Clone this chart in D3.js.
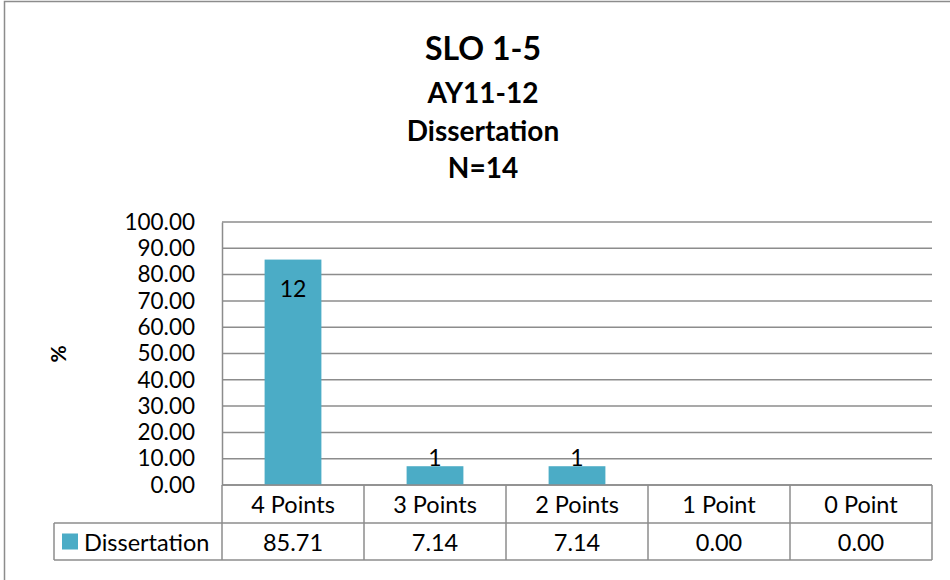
<!DOCTYPE html>
<html>
<head>
<meta charset="utf-8">
<script src="https://cdn.jsdelivr.net/npm/d3@7"></script>
<style>
  body { margin: 0; background: #fff; }
  text { font-family: Lato, "Open Sans", sans-serif; fill: #000; }
</style>
</head>
<body>
<div class="canvas"></div>
<script>
// chart data
const categories = ['4 Points', '3 Points', '2 Points', '1 Point', '0 Point'];
const percents = [85.71, 7.14, 7.14, 0.00, 0.00];
const counts = [12, 1, 1, null, null];
const seriesName = 'Dissertation';
const yTicks = [0, 10, 20, 30, 40, 50, 60, 70, 80, 90, 100];
const titleLines = ['SLO 1-5', 'AY11-12', 'Dissertation', 'N=14'];

const width = 950, height = 580;
const margins = {'top': 222, 'left': 222, 'bottom': 95, 'right': 18};
const graphWidth = width - margins.left - margins.right;
const graphHeight = height - margins.top - margins.bottom;

const svg = d3.select('.canvas')
    .append('svg')
    .attr('width', width)
    .attr('height', height);

// outer chart frame
svg.append('rect')
    .attr('x', 4.5).attr('y', 1.5)
    .attr('width', 960).attr('height', 600)
    .attr('fill', 'none')
    .attr('stroke', '#8c8c8c')
    .attr('stroke-width', 1.5);

// titles
const titleY = [49, 93, 131, 168];
const titleSize = [32, 28, 28, 28];
svg.selectAll('.title')
    .data(titleLines)
    .enter().append('text')
    .attr('class', 'title')
    .attr('x', 483)
    .attr('y', (d, i) => titleY[i])
    .attr('dy', '0.35em')
    .attr('text-anchor', 'middle')
    .attr('font-weight', 'bold')
    .attr('font-size', (d, i) => titleSize[i])
    .text(d => d);

const graph = svg.append('g')
    .attr('transform', 'translate(' + margins.left + ',' + margins.top + ')');

const y = d3.scaleLinear()
    .range([graphHeight, 0])
    .domain([0, 100]);

const x = d3.scaleBand()
    .range([0, graphWidth])
    .domain(categories)
    .paddingInner(0)
    .paddingOuter(0);

// gridlines
graph.selectAll('.grid')
    .data(yTicks)
    .enter().append('line')
    .attr('class', 'grid')
    .attr('x1', 0).attr('x2', graphWidth)
    .attr('y1', d => y(d)).attr('y2', d => y(d))
    .attr('stroke', '#8c8c8c')
    .attr('stroke-width', 1.5);

// y axis
const yAxis = d3.axisLeft(y)
    .tickValues(yTicks)
    .tickFormat(d3.format('.2f'))
    .tickSize(0)
    .tickPadding(27);
const yAxisGroup = graph.append('g').call(yAxis);
yAxisGroup.select('.domain').attr('stroke', '#8c8c8c').attr('stroke-width', 1.5);
yAxisGroup.selectAll('text')
    .attr('font-size', 22.5)
    .attr('font-family', 'Lato, sans-serif')
    .attr('fill', '#000');

// axis title
svg.append('text')
    .attr('transform', 'translate(59,354) rotate(-90)')
    .attr('text-anchor', 'middle')
    .attr('dy', '0.35em')
    .attr('font-weight', 'bold')
    .attr('font-size', 21)
    .text('%');

// bars
const barW = x.bandwidth() * 0.4;
graph.selectAll('.bar')
    .data(percents)
    .enter().append('rect')
    .attr('class', 'bar')
    .attr('x', (d, i) => x(categories[i]) + (x.bandwidth() - barW) / 2)
    .attr('y', d => y(d))
    .attr('width', barW)
    .attr('height', d => graphHeight - y(d))
    .attr('fill', '#4bacc6');

// data labels
graph.selectAll('.lbl')
    .data(counts)
    .enter().filter(d => d !== null).append('text')
    .attr('class', 'lbl')
    .attr('x', (d, i) => x(categories[i]) + x.bandwidth() / 2)
    .attr('y', (d, i) => {
        const top = y(percents[i]);
        return (graphHeight - top) > 40 ? top + 29 : top - 8;
    })
    .attr('dy', '0.35em')
    .attr('text-anchor', 'middle')
    .attr('font-size', 23)
    .text(d => d);

// data table under the axis
const row1 = graphHeight + 38;
const row2 = graphHeight + 75;
const tableLeft = 54 - margins.left;
const table = graph.append('g')
    .attr('stroke', '#8c8c8c')
    .attr('stroke-width', 1.5);
table.append('line').attr('x1', 0).attr('x2', graphWidth).attr('y1', graphHeight).attr('y2', graphHeight);
table.append('line').attr('x1', tableLeft).attr('x2', graphWidth).attr('y1', row1).attr('y2', row1);
table.append('line').attr('x1', tableLeft).attr('x2', graphWidth).attr('y1', row2).attr('y2', row2);
table.append('line').attr('x1', tableLeft).attr('x2', tableLeft).attr('y1', row1).attr('y2', row2);
table.selectAll('.vline')
    .data(categories.concat(['end']))
    .enter().append('line')
    .attr('class', 'vline')
    .attr('x1', (d, i) => i * x.bandwidth())
    .attr('x2', (d, i) => i * x.bandwidth())
    .attr('y1', graphHeight).attr('y2', row2);

graph.selectAll('.cat')
    .data(categories)
    .enter().append('text')
    .attr('class', 'cat')
    .attr('x', d => x(d) + x.bandwidth() / 2)
    .attr('y', (graphHeight + row1) / 2 + 1)
    .attr('dy', '0.35em')
    .attr('text-anchor', 'middle')
    .attr('font-size', 23.5)
    .text(d => d);

graph.selectAll('.val')
    .data(percents)
    .enter().append('text')
    .attr('class', 'val')
    .attr('x', (d, i) => x(categories[i]) + x.bandwidth() / 2)
    .attr('y', (row1 + row2) / 2 + 1)
    .attr('dy', '0.35em')
    .attr('text-anchor', 'middle')
    .attr('font-size', 23.5)
    .text(d => d3.format('.2f')(d));

// legend key in table
graph.append('rect')
    .attr('x', tableLeft + 8)
    .attr('y', (row1 + row2) / 2 - 8)
    .attr('width', 16).attr('height', 16)
    .attr('fill', '#4bacc6');
graph.append('text')
    .attr('x', tableLeft + 30)
    .attr('y', (row1 + row2) / 2 + 1)
    .attr('dy', '0.35em')
    .attr('font-size', 23.5)
    .text(seriesName);
</script>
</body>
</html>
